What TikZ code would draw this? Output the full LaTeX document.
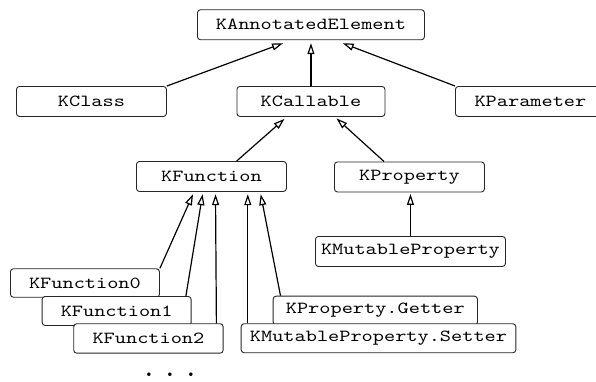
\documentclass[tikz,border=0pt]{standalone}
\usepackage{fontspec}
\newfontfamily\cour{lmmono10-regular.otf}[FakeStretch=1.26]
\newfontfamily\courdots{lmmonolt10-bold.otf}
\usetikzlibrary{arrows.meta}
\tikzset{
  box/.style={draw=black!85, line width=0.9pt, rounded corners=3pt, fill=white,
    inner sep=0pt, font=\cour\fontsize{16.9}{20}\selectfont,
    minimum height=30pt, anchor=north west},
  inh/.style={-{Triangle[open,length=11pt,width=7pt]}, line width=1.2pt, black}
}
\begin{document}
\begin{tikzpicture}[x=1pt,y=1pt]
\clip (0,0) rectangle (596,381);
\fill[white] (0,0) rectangle (596,381);
% row 1
\node[box, minimum width=227pt] (ae) at (197,371.7) {KAnnotatedElement};
% row 2
\node[box, minimum width=150pt] (kclass) at (16,295) {KClass};
\node[box, minimum width=148pt] (kcall) at (236.5,295) {KCallable};
\node[box, minimum width=150pt] (kparam) at (455,295) {KParameter};
% row 3
\node[box, minimum width=150pt] (kfun) at (136,220) {KFunction};
\node[box, minimum width=150pt] (kprop) at (334,219.5) {KProperty};
% row 4
\node[box, minimum width=190pt] (kmp) at (315,145) {KMutableProperty};
% functions
\node[box, minimum width=149pt, minimum height=28.5pt] (kf0) at (10,112.7) {KFunction0};
\node[box, minimum width=149pt, minimum height=29pt] (kf1) at (41.7,85) {KFunction1};
\node[box, minimum width=149.4pt, minimum height=29.4pt] (kf2) at (73.3,57.7) {KFunction2};
% accessors
\node[box, minimum width=204.3pt, minimum height=29pt] (getter) at (272.7,85.3) {KProperty.Getter};
\node[box, minimum width=274.7pt, minimum height=29pt] (setter) at (240.7,57.7) {KMutableProperty.Setter};
% dots
\node[font=\courdots\fontsize{26}{30}\selectfont, inner sep=0pt, anchor=base] (dots) at (170,4.2) {.\hspace{7.35pt}.\hspace{7.35pt}.};
% connectors
\draw[inh] (kclass.north east) -- ([shift={(86,-3)}]ae.south west);
\draw[inh] (kcall.north) -- ([yshift=-3pt]ae.south);
\draw[inh] (kparam.north west) -- ([shift={(145.7,-3)}]ae.south west);
\draw[inh] ([xshift=100.7pt]kfun.north west) -- ([shift={(48,-2)}]kcall.south west);
\draw[inh] ([xshift=50pt]kprop.north west) -- ([shift={(100,-1.5)}]kcall.south west);
\draw[inh] (kmp.north) -- ([yshift=-1.5pt]kmp.north |- kprop.south);
\draw[inh] (kf0.north east) -- ([shift={(57,-2.3)}]kfun.south west);
\draw[inh] ([xshift=-5.7pt]kf1.north east) -- ([shift={(66.6,-2.3)}]kfun.south west);
\draw[inh] ([xshift=-7.2pt]kf2.north east) -- ([shift={(79.5,-2.3)}]kfun.south west);
\draw[inh] ([xshift=7.1pt]setter.north west) -- ([shift={(111.8,-2.3)}]kfun.south west);
\draw[inh] ([xshift=7.8pt]getter.north west) -- ([shift={(124.7,-2.3)}]kfun.south west);
\end{tikzpicture}
\end{document}
